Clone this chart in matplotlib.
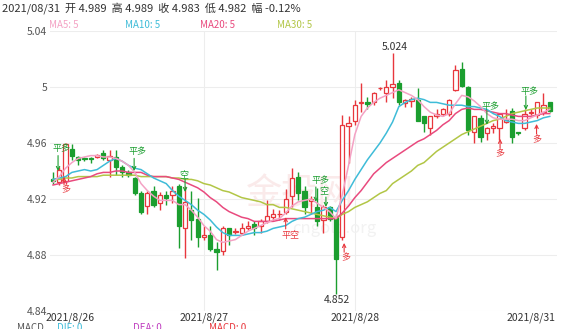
import matplotlib
matplotlib.use('Agg')
import matplotlib.pyplot as plt

plt.rcParams['font.family'] = ['Noto Sans CJK SC', 'DejaVu Sans']

# K线数据 (开, 收, 高, 低)
opens = [4.934, 4.932, 4.933, 4.956, 4.950, 4.9490, 4.9490, 4.9497, 4.953, 4.948,
         4.950, 4.943, 4.939, 4.935, 4.924, 4.915, 4.926, 4.917, 4.923, 4.923,
         4.929, 4.899, 4.912, 4.906, 4.8928, 4.894, 4.884, 4.883, 4.899, 4.8963,
         4.896, 4.8993, 4.902, 4.901, 4.904, 4.907, 4.9090, 4.911, 4.922, 4.936,
         4.926, 4.9188, 4.914, 4.905, 4.914, 4.907, 4.893, 4.972, 4.976, 4.9887,
         4.9893, 4.989, 4.9990, 4.996, 5.000, 5.003, 4.9887, 4.9900, 4.991, 4.979,
         4.971, 4.979, 4.981, 4.981, 4.998, 5.013, 5.000, 4.968, 4.978, 4.967,
         4.9706, 4.971, 4.9750, 4.983, 4.9675, 4.971, 4.9814, 4.980, 4.982, 4.989]
closes = [4.933, 4.941, 4.959, 4.951, 4.948, 4.9484, 4.9484, 4.9512, 4.949, 4.951,
          4.943, 4.939, 4.937, 4.924, 4.911, 4.924, 4.916, 4.923, 4.921, 4.926,
          4.901, 4.918, 4.905, 4.893, 4.8945, 4.884, 4.882, 4.899, 4.894, 4.8972,
          4.899, 4.9007, 4.899, 4.904, 4.908, 4.909, 4.9095, 4.920, 4.935, 4.924,
          4.914, 4.9202, 4.904, 4.914, 4.906, 4.877, 4.973, 4.974, 4.987, 4.9895,
          4.9879, 4.996, 4.9993, 5.000, 5.002, 4.989, 4.991, 4.9914, 4.976, 4.974,
          4.979, 4.981, 4.984, 4.991, 5.012, 5.001, 4.969, 4.979, 4.964, 4.971,
          4.9720, 4.981, 4.9765, 4.964, 4.9670, 4.981, 4.9821, 4.989, 4.987, 4.983]
highs = [4.939, 4.943, 4.960, 4.959, 4.951, 4.950, 4.950, 4.952, 4.955, 4.955,
         4.955, 4.944, 4.941, 4.936, 4.926, 4.926, 4.929, 4.925, 4.926, 4.929,
         4.931, 4.929, 4.926, 4.921, 4.901, 4.901, 4.889, 4.901, 4.8995, 4.899,
         4.903, 4.904, 4.904, 4.906, 4.919, 4.913, 4.912, 4.927, 4.942, 4.939,
         4.929, 4.922, 4.928, 4.916, 4.915, 4.909, 4.980, 4.979, 4.991, 5.003,
         4.993, 4.9965, 5.000, 5.005, 5.024, 5.005, 4.9915, 4.993, 4.999, 4.979,
         4.9795, 4.984, 4.985, 4.9915, 5.016, 5.018, 5.0005, 4.9795, 4.980, 4.9715,
         4.974, 4.9812, 4.984, 4.985, 4.968, 4.984, 4.984, 4.9895, 4.996, 4.989]
lows = [4.931, 4.930, 4.931, 4.948, 4.944, 4.947, 4.946, 4.949, 4.948, 4.936,
        4.937, 4.936, 4.936, 4.923, 4.909, 4.909, 4.914, 4.912, 4.916, 4.917,
        4.885, 4.878, 4.891, 4.886, 4.891, 4.883, 4.869, 4.880, 4.887, 4.895,
        4.894, 4.898, 4.894, 4.896, 4.903, 4.904, 4.905, 4.909, 4.914, 4.919,
        4.909, 4.909, 4.901, 4.896, 4.904, 4.852, 4.891, 4.946, 4.973, 4.982,
        4.984, 4.987, 4.998, 4.989, 4.992, 4.987, 4.986, 4.986, 4.9755, 4.968,
        4.966, 4.978, 4.979, 4.979, 4.997, 5.000, 4.966, 4.960, 4.961, 4.962,
        4.967, 4.962, 4.974, 4.960, 4.966, 4.969, 4.980, 4.978, 4.980, 4.982]

# 均线
ma5 = [4.932, 4.936, 4.942, 4.946, 4.949, 4.950, 4.951, 4.951, 4.950, 4.950,
       4.949, 4.947, 4.944, 4.939, 4.931, 4.926, 4.922, 4.919, 4.919, 4.919,
       4.916, 4.916, 4.912, 4.907, 4.901, 4.897, 4.891, 4.889, 4.890, 4.891,
       4.894, 4.897, 4.899, 4.901, 4.903, 4.905, 4.906, 4.910, 4.915, 4.918,
       4.919, 4.920, 4.917, 4.914, 4.911, 4.906, 4.923, 4.944, 4.966, 4.979,
       4.985, 4.989, 4.992, 4.994, 4.996, 4.998, 4.996, 4.994, 4.991, 4.986,
       4.982, 4.980, 4.979, 4.981, 4.988, 4.994, 4.993, 4.990, 4.986, 4.981,
       4.978, 4.977, 4.977, 4.977, 4.976, 4.976, 4.978, 4.980, 4.982, 4.984]
ma10 = [4.934, 4.935, 4.936, 4.939, 4.940, 4.941, 4.940, 4.941, 4.944, 4.947,
        4.949, 4.947, 4.944, 4.942, 4.941, 4.938, 4.935, 4.933, 4.931, 4.926,
        4.922, 4.919, 4.916, 4.912, 4.909, 4.905, 4.900, 4.896, 4.894, 4.894,
        4.894, 4.895, 4.896, 4.896, 4.897, 4.899, 4.900, 4.901, 4.904, 4.906,
        4.907, 4.909, 4.911, 4.912, 4.914, 4.911, 4.919, 4.926, 4.934, 4.941,
        4.948, 4.954, 4.960, 4.967, 4.975, 4.986, 4.989, 4.991, 4.992, 4.991,
        4.989, 4.989, 4.988, 4.987, 4.987, 4.987, 4.986, 4.986, 4.985, 4.984,
        4.981, 4.979, 4.976, 4.975, 4.974, 4.974, 4.975, 4.976, 4.978, 4.979]
ma20 = [4.930, 4.931, 4.932, 4.933, 4.934, 4.935, 4.936, 4.938, 4.939, 4.939,
        4.940, 4.940, 4.939, 4.939, 4.939, 4.937, 4.936, 4.936, 4.936, 4.935,
        4.934, 4.932, 4.930, 4.928, 4.925, 4.921, 4.918, 4.914, 4.911, 4.909,
        4.907, 4.906, 4.904, 4.904, 4.904, 4.904, 4.905, 4.906, 4.906, 4.906,
        4.906, 4.906, 4.906, 4.906, 4.906, 4.906, 4.910, 4.915, 4.921, 4.926,
        4.932, 4.938, 4.942, 4.946, 4.949, 4.952, 4.955, 4.958, 4.961, 4.963,
        4.966, 4.969, 4.973, 4.976, 4.981, 4.984, 4.985, 4.984, 4.984, 4.983,
        4.982, 4.981, 4.981, 4.980, 4.979, 4.979, 4.979, 4.980, 4.981, 4.981]
ma30 = [4.934, 4.934, 4.935, 4.935, 4.936, 4.936, 4.936, 4.936, 4.937, 4.937,
        4.937, 4.937, 4.937, 4.937, 4.936, 4.936, 4.936, 4.936, 4.936, 4.935,
        4.935, 4.934, 4.934, 4.933, 4.931, 4.930, 4.928, 4.926, 4.925, 4.923,
        4.921, 4.920, 4.919, 4.918, 4.916, 4.916, 4.914, 4.914, 4.913, 4.912,
        4.911, 4.910, 4.909, 4.908, 4.907, 4.906, 4.909, 4.911, 4.914, 4.916,
        4.918, 4.921, 4.924, 4.926, 4.931, 4.934, 4.937, 4.940, 4.944, 4.946,
        4.950, 4.954, 4.957, 4.960, 4.963, 4.966, 4.968, 4.970, 4.972, 4.974,
        4.976, 4.977, 4.979, 4.981, 4.982, 4.983, 4.984, 4.985, 4.985, 4.985]

date_ticks = [2.7, 24, 48, 76]
date_labels = ['2021/8/26', '2021/8/27', '2021/8/28', '2021/8/31']
y_ticks = [4.84, 4.88, 4.92, 4.96, 5.0, 5.04]
y_labels = ['4.84', '4.88', '4.92', '4.96', '5', '5.04']

# 信号标记: 文字, 文字位置, 箭头(x, 起点, 终点)
signal_texts = ['平多', '多', '平多', '空', '平空', '平多', '空', '多', '平多', '多', '平多', '多']
signal_pos = [(1.4, 4.9560), (2.1, 4.9264), (13.5, 4.9536), (20.8, 4.9364), (37.7, 4.8936),
              (42.6, 4.9329), (43.1, 4.9250), (46.6, 4.8779), (69.6, 4.9864), (71.1, 4.9520),
              (75.8, 4.9970), (76.9, 4.9620)]
signal_arrows = [(0.8, 4.951, 4.940), (1.75, 4.930, 4.936), (12.9, 4.949, 4.940), (21.0, 4.934, 4.925),
                 (37.0, 4.8986, 4.907), (41.8, 4.9286, 4.918), (43.4, 4.9214, 4.9143), (46.3, 4.882, 4.8886),
                 (69.0, 4.983, 4.973), (71.1, 4.9564, 4.963), (75.2, 4.9936, 4.9836), (76.9, 4.9664, 4.9736)]

up_color = '#e8373d'
down_color = '#1b9e2f'
ma_colors = ['#f4a2c4', '#3fbcd8', '#e94a7e', '#b2c646']

fig = plt.figure(figsize=(5.72, 3.29), dpi=100)
ax = fig.add_axes([0.0872, 0.0547, 0.886, 0.8511])

# K线
for i in range(len(opens)):
    o, c, h, l = opens[i], closes[i], highs[i], lows[i]
    if c >= o:
        col = up_color
        face = 'white'
    else:
        col = down_color
        face = down_color
    ax.vlines(i, l, h, color=col, linewidth=1.0, zorder=2)
    body = max(abs(c - o), 0.0003)
    ax.bar(i, body, bottom=min(o, c), width=0.68, facecolor=face, edgecolor=col,
           linewidth=0.9, zorder=3)

# 均线
x = list(range(len(ma5)))
for vals, col in zip([ma30, ma20, ma10, ma5], ma_colors[::-1]):
    ax.plot(x, vals, color=col, linewidth=1.1, zorder=4)

# 信号
for t, (tx, ty), (ax_x, y0, y1) in zip(signal_texts, signal_pos, signal_arrows):
    col = down_color if '平多' in t or t == '空' else up_color
    ax.text(tx, ty, t, color=col, fontsize=6.5, ha='center', va='center', zorder=6)
    ax.annotate('', xy=(ax_x, y1), xytext=(ax_x, y0),
                arrowprops=dict(arrowstyle='->', color=col, lw=0.8, shrinkA=0, shrinkB=0,
                                mutation_scale=6), zorder=6)

# 最高最低
ax.text(54.4, 5.0286, '5.024', fontsize=7.5, color='#333333', ha='center', va='center')
ax.text(45.2, 4.8480, '4.852', fontsize=7.5, color='#333333', ha='center', va='center')

# 水印
ax.text(39.3, 4.923, '金投网', fontsize=26, color='#faeaea', ha='center', va='center', zorder=1)
ax.text(44.8, 4.899, 'cngold.org', fontsize=12, color='#f2f2f2', ha='center', va='center', zorder=1)

# 坐标轴
ax.set_xlim(-0.5, 80.1)
ax.set_ylim(4.84, 5.04)
ax.set_yticks(y_ticks)
ax.set_yticklabels(y_labels)
ax.set_xticks(date_ticks)
ax.set_xticklabels(date_labels)
ax.tick_params(axis='y', length=0, pad=2, labelsize=7.5, labelcolor='#555555')
ax.tick_params(axis='x', length=0, pad=1, labelsize=7.5, labelcolor='#333333')
ax.grid(axis='y', color='#ededed', linewidth=0.8, zorder=0)
for v in [24, 48]:
    ax.axvline(v, color='#ededed', linewidth=0.8, zorder=0)
for s in ax.spines.values():
    s.set_visible(False)
ax.set_axisbelow(True)

# 顶部信息
fig.text(0.004, 0.975, '2021/08/31  开 4.989  高 4.989  收 4.983  低 4.982  幅 -0.12%',
         fontsize=8, color='#333333', va='center')
for txt, xp, col in zip(['MA5: 5', 'MA10: 5', 'MA20: 5', 'MA30: 5'],
                        [0.085, 0.218, 0.35, 0.485], ma_colors):
    fig.text(xp, 0.925, txt, fontsize=7, color=col, va='center')

# 底部MACD (被裁掉一半)
for txt, xp, col in zip(['MACD', 'DIF: 0', 'DEA: 0', 'MACD: 0'],
                        [0.03, 0.1, 0.232, 0.366], ['#555555', '#3fbcd8', '#c040c0', '#e8373d']):
    fig.text(xp, 0.018, txt, fontsize=7, color=col, va='top')

plt.savefig('out.png', dpi=100)
